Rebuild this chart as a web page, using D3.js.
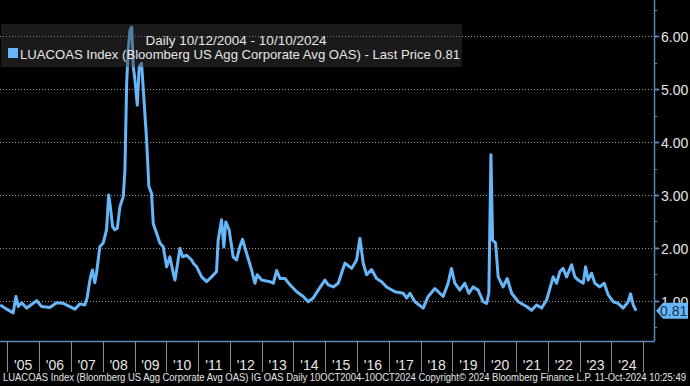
<!DOCTYPE html>
<html>
<head>
<meta charset="utf-8">
<script src="https://cdn.jsdelivr.net/npm/d3@7"></script>
<style>
  html, body { margin: 0; padding: 0; background: #000; }
  svg { display: block; }
  text { font-family: "Liberation Sans", Arial, sans-serif; }
</style>
</head>
<body>
<svg id="chart"></svg>
<script>
const dates = [
  '2004-10-12', '2004-12-25', '2005-03-10', '2005-04-10', '2005-05-06', '2005-06-15', '2005-08-11', '2005-12-04',
  '2006-01-30', '2006-05-05', '2006-07-21', '2006-10-05', '2007-02-17', '2007-04-15', '2007-06-11', '2007-07-07',
  '2007-07-30', '2007-08-15', '2007-09-07', '2007-10-03', '2007-10-23', '2007-11-30', '2008-01-07', '2008-02-15',
  '2008-03-10', '2008-03-25', '2008-04-25', '2008-05-21', '2008-06-17', '2008-07-18', '2008-08-25', '2008-09-13',
  '2008-10-03', '2008-10-21', '2008-11-10', '2008-11-30', '2008-12-18', '2009-01-06', '2009-02-02', '2009-02-24',
  '2009-03-23', '2009-04-10', '2009-05-20', '2009-06-15', '2009-07-16', '2009-08-04', '2009-09-12', '2009-10-20',
  '2009-11-27', '2010-01-05', '2010-02-12', '2010-03-22', '2010-04-11', '2010-06-07', '2010-07-08', '2010-08-23',
  '2010-10-19', '2010-11-07', '2010-12-16', '2011-02-11', '2011-04-09', '2011-06-05', '2011-08-01', '2011-08-20',
  '2011-09-28', '2011-10-24', '2011-11-16', '2011-12-24', '2012-02-08', '2012-03-18', '2012-04-25', '2012-05-26',
  '2012-07-11', '2012-09-07', '2012-10-15', '2012-11-10', '2013-01-01', '2013-04-06', '2013-05-14', '2013-06-22',
  '2013-07-30', '2013-09-25', '2013-11-22', '2014-02-07', '2014-04-23', '2014-06-19', '2014-08-16', '2014-10-12',
  '2014-12-28', '2015-02-04', '2015-04-03', '2015-05-30', '2015-08-15', '2015-10-31', '2015-12-27', '2016-02-03',
  '2016-03-12', '2016-04-20', '2016-06-16', '2016-08-12', '2016-10-09', '2016-12-05', '2017-03-11', '2017-06-15',
  '2017-07-24', '2017-08-31', '2017-10-27', '2018-01-30', '2018-03-28', '2018-06-13', '2018-08-09', '2018-09-16',
  '2018-11-12', '2018-12-21', '2019-01-28', '2019-03-26', '2019-05-23', '2019-07-08', '2019-08-27', '2019-10-23',
  '2019-12-20', '2020-01-28', '2020-02-23', '2020-03-18', '2020-04-06', '2020-05-10', '2020-06-09', '2020-08-05',
  '2020-09-21', '2020-11-11', '2021-01-26', '2021-05-01', '2021-06-28', '2021-08-24', '2021-10-21', '2021-12-17',
  '2022-01-24', '2022-03-03', '2022-04-11', '2022-05-19', '2022-06-26', '2022-08-04', '2022-09-30', '2022-11-07',
  '2022-12-15', '2023-02-11', '2023-03-10', '2023-04-09', '2023-05-18', '2023-06-25', '2023-08-21', '2023-10-10',
  '2023-11-25', '2024-01-21', '2024-03-18', '2024-05-15', '2024-07-11', '2024-08-08', '2024-09-07', '2024-10-10'
]

const oas = [
  0.92, 0.84, 0.77, 1.08, 0.89, 0.96, 0.86, 1.00,
  0.89, 0.87, 0.96, 0.95, 0.84, 0.94, 0.92, 1.05,
  1.30, 1.45, 1.58, 1.34, 1.52, 2.02, 2.09, 2.34,
  3.00, 2.84, 2.40, 2.34, 2.37, 2.78, 2.97, 3.47,
  5.11, 5.74, 6.12, 6.18, 5.43, 5.18, 4.70, 5.43,
  5.49, 5.05, 4.04, 3.16, 3.03, 2.46, 2.27, 2.09,
  2.02, 1.64, 1.83, 1.52, 1.39, 1.99, 1.83, 1.86,
  1.77, 1.71, 1.64, 1.45, 1.36, 1.45, 1.55, 2.15,
  2.53, 2.02, 2.49, 2.34, 1.83, 1.77, 2.02, 2.16,
  1.90, 1.58, 1.33, 1.49, 1.39, 1.36, 1.33, 1.57,
  1.42, 1.42, 1.30, 1.17, 1.08, 0.98, 1.05, 1.20,
  1.39, 1.30, 1.26, 1.33, 1.71, 1.61, 1.77, 2.18,
  1.71, 1.49, 1.59, 1.42, 1.36, 1.26, 1.17, 1.14,
  1.05, 1.14, 0.98, 0.86, 1.08, 1.23, 1.14, 1.08,
  1.33, 1.61, 1.33, 1.20, 1.33, 1.14, 1.26, 1.20,
  0.98, 0.95, 1.14, 3.76, 2.15, 2.09, 1.45, 1.26,
  1.42, 1.14, 0.98, 0.89, 0.82, 0.92, 0.86, 1.01,
  1.23, 1.45, 1.33, 1.55, 1.61, 1.45, 1.68, 1.45,
  1.39, 1.33, 1.64, 1.39, 1.52, 1.33, 1.26, 1.33,
  1.11, 0.98, 0.95, 0.86, 0.98, 1.13, 0.92, 0.81
]

const yTicks = [1, 2, 3, 4, 5, 6]
const yMinorTicks = [0.5, 1.5, 2.5, 3.5, 4.5, 5.5, 6.5]
const years = d3.range(2005, 2026)
const lastPrice = 0.81

const title = 'Daily 10/12/2004 - 10/10/2024'
const legendLabel = 'LUACOAS Index (Bloomberg US Agg Corporate Avg OAS) - Last Price 0.81'
const footer = 'LUACOAS Index (Bloomberg US Agg Corporate Avg OAS) IG OAS  Daily 10OCT2004-10OCT2024 Copyright\u00a9 2024 Bloomberg Finance L.P. 11-Oct-2024 10:25:49'

const width = 690
const height = 386
const plotRight = 654
const plotBottom = 341
const lineColor = '#66b6f8'

const parse = d3.timeParse('%Y-%m-%d')
const series = dates.map((d, i) => ({date: parse(d), value: oas[i]}))

const svg = d3.select('#chart')
  .attr('width', width)
  .attr('height', height)

svg.append('rect')
  .attr('width', width)
  .attr('height', height)
  .attr('fill', '#000')

const x = d3.scaleTime()
  .domain([new Date(2005, 0, 1), new Date(2025, 0, 1)])
  .range([7.3, 643.3])

const y = d3.scaleLinear()
  .domain([0.237, 6.69])
  .range([plotBottom, 0])

svg.append('clipPath')
  .attr('id', 'plot-clip')
  .append('rect')
  .attr('x', 0)
  .attr('y', 0)
  .attr('width', plotRight)
  .attr('height', plotBottom)

// gridlines
svg.append('g')
  .selectAll('line')
  .data(yTicks)
  .join('line')
  .attr('x1', 0)
  .attr('x2', plotRight)
  .attr('y1', d => Math.round(y(d)) + 0.5)
  .attr('y2', d => Math.round(y(d)) + 0.5)
  .attr('stroke', '#9a9a9a')
  .attr('stroke-width', 1)
  .attr('stroke-dasharray', '1,2')

// series
const line = d3.line()
  .x(d => x(d.date))
  .y(d => y(d.value))

svg.append('path')
  .datum(series)
  .attr('clip-path', 'url(#plot-clip)')
  .attr('fill', 'none')
  .attr('stroke', lineColor)
  .attr('stroke-width', 3)
  .attr('stroke-linejoin', 'round')
  .attr('d', line)

// legend box (semi transparent, line shows through)
svg.append('rect')
  .attr('x', 1)
  .attr('y', 24)
  .attr('width', 461)
  .attr('height', 43)
  .attr('fill', '#3a3a3a')
  .attr('opacity', 0.45)

svg.append('text')
  .attr('x', 236)
  .attr('y', 45)
  .attr('text-anchor', 'middle')
  .attr('fill', '#e6e6e6')
  .attr('font-size', 13.5)
  .text(title)

svg.append('rect')
  .attr('x', 8)
  .attr('y', 48)
  .attr('width', 10)
  .attr('height', 10)
  .attr('fill', lineColor)

svg.append('text')
  .attr('x', 20)
  .attr('y', 59)
  .attr('fill', '#e6e6e6')
  .attr('font-size', 13.5)
  .attr('textLength', 440)
  .attr('lengthAdjust', 'spacingAndGlyphs')
  .text(legendLabel)

// right axis
const axisColor = '#5b86b3'
svg.append('line')
  .attr('x1', plotRight + 0.5)
  .attr('x2', plotRight + 0.5)
  .attr('y1', 0)
  .attr('y2', plotBottom)
  .attr('stroke', axisColor)
  .attr('stroke-width', 1.5)

svg.append('line')
  .attr('x1', 0)
  .attr('x2', plotRight + 1)
  .attr('y1', plotBottom + 0.5)
  .attr('y2', plotBottom + 0.5)
  .attr('stroke', axisColor)
  .attr('stroke-width', 1.5)

svg.append('g')
  .selectAll('line')
  .data(yMinorTicks)
  .join('line')
  .attr('x1', plotRight)
  .attr('x2', plotRight + 3)
  .attr('y1', d => Math.round(y(d)) + 0.5)
  .attr('y2', d => Math.round(y(d)) + 0.5)
  .attr('stroke', axisColor)

const majors = svg.append('g')
  .selectAll('g')
  .data(yTicks)
  .join('g')
  .attr('transform', d => `translate(0, ${Math.round(y(d)) + 0.5})`)

majors.append('path')
  .attr('d', `M${plotRight},-1 L${plotRight + 4},-1 L${plotRight + 6},0 L${plotRight + 4},1 L${plotRight},1 Z`)
  .attr('fill', axisColor)

majors.append('text')
  .attr('x', 661)
  .attr('y', 5)
  .attr('fill', '#e6e6e6')
  .attr('font-size', 14)
  .text(d => d.toFixed(2))

// last price tag, drawn over the 1.00 label like the original
const tagY = y(lastPrice)
svg.append('path')
  .attr('d', `M${plotRight + 2},${tagY} L${plotRight + 9},${tagY - 8} L688,${tagY - 8} L688,${tagY + 8} L${plotRight + 9},${tagY + 8} Z`)
  .attr('fill', lineColor)

svg.append('text')
  .attr('x', 660)
  .attr('y', tagY + 5)
  .attr('fill', '#16324f')
  .attr('font-size', 14)
  .text(lastPrice.toFixed(2))

// x axis: year separators and centered labels
svg.append('g')
  .selectAll('line')
  .data(years)
  .join('line')
  .attr('x1', d => Math.round(x(new Date(d, 0, 1))) + 0.5)
  .attr('x2', d => Math.round(x(new Date(d, 0, 1))) + 0.5)
  .attr('y1', plotBottom)
  .attr('y2', 372)
  .attr('stroke', '#8c8c8c')

const fmtYear = d3.timeFormat("'%y")
svg.append('g')
  .selectAll('text')
  .data(years.slice(0, -1))
  .join('text')
  .attr('x', d => (x(new Date(d, 0, 1)) + x(new Date(d + 1, 0, 1))) / 2)
  .attr('y', 370)
  .attr('text-anchor', 'middle')
  .attr('fill', '#e6e6e6')
  .attr('font-size', 14)
  .text(d => fmtYear(new Date(d, 0, 1)))

svg.append('text')
  .attr('x', 3)
  .attr('y', 381)
  .attr('fill', '#e6e6e6')
  .attr('font-size', 10)
  .attr('textLength', 683)
  .attr('lengthAdjust', 'spacingAndGlyphs')
  .text(footer)
</script>
</body>
</html>
